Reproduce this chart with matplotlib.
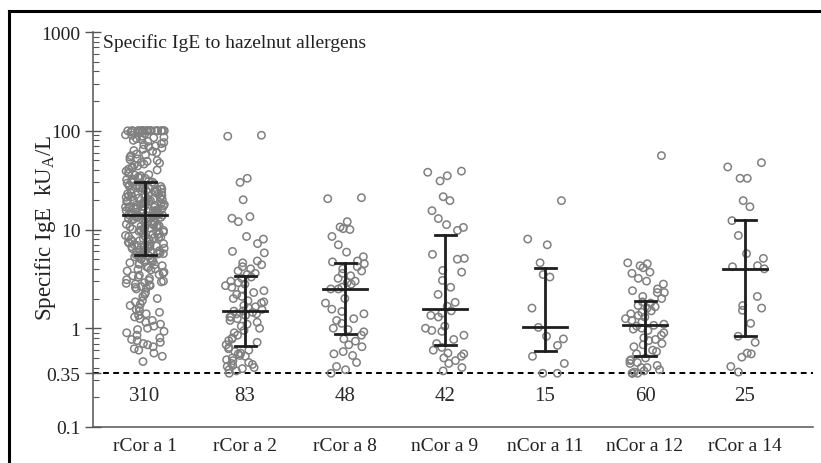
"""
Scatter of specific IgE levels (kUA/L) to hazelnut allergen components,
with median and interquartile range per allergen, log scale.
"""

import matplotlib
matplotlib.use("Agg")
import matplotlib.pyplot as plt
from matplotlib.lines import Line2D
import numpy as np

plt.rcParams["font.family"] = ["Liberation Serif", "DejaVu Serif"]
plt.rcParams["mathtext.fontset"] = "custom"
plt.rcParams["mathtext.rm"] = "Liberation Serif"

# DATA

allergens = ["rCor a 1", "rCor a 2", "rCor a 8", "nCor a 9", "nCor a 11", "nCor a 12", "rCor a 14"]
n_labels = ["310", "83", "48", "42", "15", "60", "25"]

medians = [14.0, 1.49, 2.5, 1.56, 1.02, 1.07, 4.0]
q1 = [5.5, 0.66, 0.87, 0.67, 0.59, 0.52, 0.83]
q3 = [30.0, 3.4, 4.6, 8.7, 4.1, 1.87, 12.5]

cor_a_1 = [
    100, 100, 100, 100, 100, 100, 100, 100, 100, 100,
    100, 100, 100, 100, 100, 100, 100, 100, 100, 100,
    100, 100, 98, 97, 95, 93, 91, 90, 88, 86,
    85, 83, 81, 80, 78, 76, 74, 72, 70, 69,
    67, 65, 63, 62, 60, 58, 57, 56, 54, 52,
    51, 50, 49, 48, 47, 46, 45, 44, 43, 42,
    41, 40, 39, 38, 37, 36, 35.5, 35, 34, 33.5,
    33, 32.5, 32, 31.5, 31, 30.5, 30.2,
    29.8, 29.5, 29.0, 28.6, 28.2, 27.9, 27.5, 27.1, 26.8, 26.5,
    26.1, 25.8, 25.4, 25.1, 24.8, 24.5, 24.2, 23.9, 23.6, 23.3,
    23.0, 22.7, 22.4, 22.1, 21.8, 21.5, 21.3, 21.0, 20.8, 20.5,
    20.3, 20.0, 19.8, 19.6, 19.4, 19.1, 18.9, 18.7, 18.5, 18.3,
    18.1, 17.9, 17.7, 17.5, 17.3, 17.1, 16.9, 16.8, 16.6, 16.4,
    16.2, 16.1, 15.9, 15.8, 15.6, 15.5, 15.3, 15.2, 15.0, 14.9,
    14.8, 14.6, 14.5, 14.4, 14.3, 14.2, 14.1, 14.0, 22.9, 25.6,
    19.2, 17.0, 27.3, 21.2, 16.5, 15.4, 18.8, 20.9, 13.95,
    13.9, 13.7, 13.5, 13.3, 13.1, 12.9, 12.7, 12.5, 12.3, 12.1,
    11.9, 11.7, 11.5, 11.3, 11.1, 10.9, 10.7, 10.5, 10.3, 10.1,
    9.9, 9.8, 9.6, 9.4, 9.2, 9.0, 8.9, 8.7, 8.5, 8.4,
    8.2, 8.1, 7.9, 7.8, 7.6, 7.5, 7.3, 7.2, 7.1, 6.9,
    6.8, 6.7, 6.6, 6.5, 6.4, 6.3, 6.2, 6.1, 6.0, 5.9,
    5.8, 5.7, 5.6, 5.55, 12.8, 11.0, 9.5, 8.0, 7.0, 6.45,
    10.6, 9.1, 7.7, 6.75, 5.95, 13.2, 11.6, 10.2, 8.6, 7.4,
    6.15, 5.65, 9.7, 8.3, 6.9, 12.0, 10.8,
    5.45, 5.4, 5.3, 5.2, 5.1, 5.0, 4.9, 4.8, 4.7, 4.6,
    4.5, 4.45, 4.4, 4.3, 4.2, 4.1, 4.0, 3.95, 3.9, 3.8,
    3.7, 3.6, 3.5, 3.45, 3.4, 3.3, 3.2, 3.1, 3.05, 3.0,
    2.95, 2.9, 2.85, 2.8, 2.75, 2.7, 2.65, 2.6, 2.55, 2.5,
    2.3, 2.2, 2.1, 2.0, 1.9, 1.85, 1.75, 1.7, 1.6, 1.55,
    1.5, 1.45, 1.4, 1.35, 1.3, 1.25, 1.2, 1.15, 1.1, 1.05,
    1.0, 0.97, 0.93, 0.9, 0.85, 0.8, 0.77, 0.75, 0.72, 0.7,
    0.68, 0.65, 0.62, 0.6, 0.56, 0.52, 0.46,
]

cor_a_2 = [
    90, 88, 33, 30, 20, 13.5, 13, 12, 8.5, 8, 7.2, 6, 5.8, 4.8, 4.6, 4.4, 4.2, 4.0, 3.8, 3.6, 3.5,
    3.3, 3.2, 3.0, 2.9, 2.8, 2.7, 2.6, 2.5, 2.4, 2.3, 2.2, 2.1, 2.0, 1.9, 1.85, 1.8, 1.7, 1.65,
    1.6, 1.55, 1.5, 1.49,
    1.45, 1.4, 1.4, 1.35, 1.3, 1.3, 1.25, 1.2, 1.15, 1.1, 1.05, 1.0, 0.95, 0.9, 0.85, 0.8, 0.78,
    0.75, 0.72, 0.68,
    0.64, 0.62, 0.6, 0.58, 0.56, 0.55, 0.53, 0.52, 0.5, 0.48, 0.47, 0.45, 0.44, 0.43, 0.42, 0.41,
    0.4, 0.39, 0.38, 0.37, 0.35,
]

cor_a_8 = [
    21, 20.5, 12, 10.6, 10.2, 10, 8.5, 7.0, 5.9, 5.3, 4.8, 4.7,
    4.5, 4.2, 4.0, 3.8, 3.6, 3.4, 3.2, 3.0, 2.9, 2.8, 2.6, 2.5, 2.5,
    2.0, 1.8, 1.56, 1.48, 1.4, 1.25, 1.2, 1.12, 1.0, 0.97, 0.92,
    0.85, 0.78, 0.74, 0.68, 0.65, 0.58, 0.55, 0.53, 0.45, 0.41, 0.38, 0.35,
]

cor_a_9 = [
    39, 38, 35, 31, 21.5, 19.6, 15.5, 12.9, 11.2, 10.5, 9.8,
    5.6, 5.1, 5.0, 3.85, 3.7, 3.05, 2.6, 2.2, 1.83, 1.67, 1.5, 1.42,
    1.35, 1.3, 1.05, 1.0, 0.95, 0.93, 0.85, 0.77, 0.7,
    0.64, 0.6, 0.56, 0.55, 0.52, 0.5, 0.47, 0.44, 0.4, 0.37,
]

cor_a_11 = [19.6, 8.0, 7.0, 4.6, 3.5, 3.3, 1.6, 1.02, 0.83, 0.78, 0.67, 0.52, 0.44, 0.35, 0.35]

cor_a_12 = [
    56, 4.6, 4.5, 4.3, 4.1, 3.7, 3.6, 3.2, 3.0, 2.8, 2.5, 2.4, 2.3, 2.3, 2.1, 2.0,
    1.85, 1.8, 1.7, 1.65, 1.6, 1.5, 1.45, 1.4, 1.35, 1.3, 1.25, 1.2, 1.15, 1.1, 1.07, 1.05,
    1.0, 0.98, 0.95, 0.9, 0.85, 0.8, 0.77, 0.75, 0.7, 0.68, 0.65, 0.6, 0.58, 0.55,
    0.5, 0.48, 0.47, 0.45, 0.44, 0.42, 0.4, 0.4, 0.38, 0.37, 0.36, 0.35, 0.35, 0.35,
]

cor_a_14 = [
    47.5, 43, 33, 33, 19.6, 17, 12.3, 8.7, 5.7, 5.1, 4.3, 4.2, 4.0,
    2.1, 1.7, 1.6, 1.52, 1.12, 0.83, 0.72, 0.56, 0.55, 0.51, 0.41, 0.36,
]

groups = [cor_a_1, cor_a_2, cor_a_8, cor_a_9, cor_a_11, cor_a_12, cor_a_14]

CUTOFF = 0.35
N_LABEL_Y = 0.21


# spread points across the column with a fixed hash of the index (no rng, same every run)
def column_offsets(n, width=0.39):
    idx = np.arange(n) + 1.0
    u = (np.sin(idx * 12.9898) * 43758.5453) % 1.0
    return (u - 0.5) * width


def plot_chart(out_path):
    fig = plt.figure(figsize=(8.21, 4.64), dpi=100)
    ax = fig.add_axes([93 / 821, 36 / 464, 720 / 821, 395 / 464])

    for i, values in enumerate(groups):
        xs = i + column_offsets(len(values))
        ax.scatter(xs, values, s=28, facecolors="none", edgecolors="#808080",
                   linewidths=1.1, zorder=2)

        # median and interquartile range
        ax.plot([i, i], [q1[i], q3[i]], color="#1e1e1e", linewidth=2, zorder=3)
        for y in (q1[i], q3[i]):
            ax.plot([i - 0.105, i + 0.105], [y, y], color="#1e1e1e", linewidth=2, zorder=3)
        ax.plot([i - 0.22, i + 0.22], [medians[i], medians[i]], color="#1e1e1e",
                linewidth=2, zorder=3)

        ax.text(i, N_LABEL_Y, n_labels[i], ha="center", va="center", fontsize=15, color="#2a2a2a")

    ax.axhline(CUTOFF, color="black", linestyle=(0, (3, 2.2)), linewidth=1.4, zorder=1)

    ax.set_yscale("log")
    ax.set_ylim(0.1, 1000)
    ax.set_xlim(-0.52, 6.68)

    ax.set_yticks([0.1, 0.35, 1, 10, 100, 1000])
    ax.set_yticklabels(["0.1", "0.35", "1", "10", "100", "1000"])
    ax.set_xticks(range(len(allergens)))
    ax.set_xticklabels(allergens)

    ax.tick_params(axis="y", which="major", direction="inout", length=12, width=1,
                   labelsize=14, pad=3, color="#555555", labelcolor="#222222")
    ax.tick_params(axis="y", which="minor", direction="in", length=4, width=0.8, color="#555555")
    ax.tick_params(axis="x", length=0, labelsize=14, pad=7, labelcolor="#222222")

    for side in ("top", "right"):
        ax.spines[side].set_visible(False)
    for side in ("left", "bottom"):
        ax.spines[side].set_color("#555555")
        ax.spines[side].set_linewidth(1.1)

    ax.text(0.014, 0.975, "Specific IgE to hazelnut allergens", transform=ax.transAxes,
            ha="left", va="center", fontsize=14, color="#222222")

    fig.text(45 / 821, 1 - 228 / 464, r"Specific IgE  kU$_\mathrm{A}$/L", rotation=90,
             ha="center", va="center", fontsize=16.5, color="#222222")

    # frame around the figure (only top and left edges are inside the crop)
    fig.add_artist(Line2D([9 / 821, 1], [1 - 12 / 464, 1 - 12 / 464], color="black", linewidth=2.2))
    fig.add_artist(Line2D([9 / 821, 9 / 821], [0, 1 - 12 / 464], color="black", linewidth=2.2))

    fig.savefig(out_path, dpi=100)
    plt.close(fig)
    print(f"Saved: {out_path}")


if __name__ == "__main__":
    plot_chart("out.png")
